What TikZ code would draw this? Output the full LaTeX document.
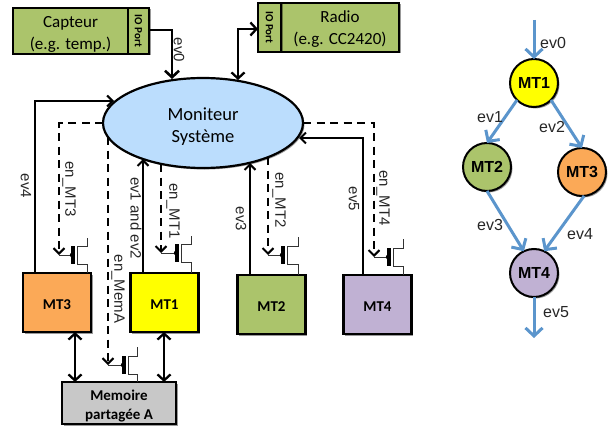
\documentclass[tikz,border=0pt]{standalone}
\usepackage{fontspec}
\setmainfont{Carlito}
\newfontfamily\arialf{Liberation Sans}
\usetikzlibrary{arrows.meta,shadows,calc,shapes.geometric}
\definecolor{cgreen}{HTML}{ABC46B}
\definecolor{corange}{HTML}{FBA957}
\definecolor{cyel}{HTML}{FFFF00}
\definecolor{cpurp}{HTML}{C0B1D3}
\definecolor{cgrey}{HTML}{C8C8C8}
\definecolor{cblue}{HTML}{BBDDFD}
\definecolor{cline}{HTML}{5B95CC}
\tikzset{
  softshadow/.style={drop shadow={shadow xshift=1.5pt,shadow yshift=-1.5pt,opacity=.4,fill=black}},
  box/.style={draw=black,line width=2.2pt,inner sep=0pt,outer sep=0pt,align=center,softshadow,font=\fontsize{17}{22}\selectfont},
  mtbox/.style={box,minimum width=68pt,minimum height=59pt,font=\fontsize{15}{18}\selectfont\bfseries},
  portlabel/.style={rotate=-90,inner sep=0pt,font=\fontsize{11}{12}\selectfont\bfseries},
  sig/.style={font=\arialf\fontsize{15}{15}\selectfont,rotate=-90,inner sep=0pt,text=black!85},
  rlab/.style={font=\arialf\fontsize{16}{16}\selectfont,inner sep=0pt,text=black!85},
  ev/.style={line width=2pt,-{Straight Barb[length=5.5pt,width=11pt,line width=2pt]}},
  enb/.style={line width=2pt,dash pattern=on 8pt off 5.5pt,-{Straight Barb[length=5.5pt,width=11pt,line width=2pt]}},
  heavy/.style={line width=2.6pt,-{Straight Barb[length=6.5pt,width=14pt,line width=2.6pt]}},
  heavyboth/.style={line width=2.3pt,{Straight Barb[length=6pt,width=13pt,line width=2.3pt]}-{Straight Barb[length=6pt,width=13pt,line width=2.3pt]}},
  circ/.style={circle,draw=black,line width=2pt,minimum size=48pt,inner sep=0pt,outer sep=0pt,softshadow,font=\arialf\fontsize{16}{16}\selectfont\bfseries},
  flow/.style={draw=cline,line width=3pt,-{Straight Barb[length=8pt,width=17pt,line width=3pt]}},
  thinw/.style={line width=.8pt,draw=black!80},
  gatebar/.style={line width=3.4pt,draw=black},
}
% gate x, gate y, right x, top y, bottom y, name of the stub end
\newcommand{\fet}[6]{%
  \draw[thinw] (#6) -- (#1,#2);
  \fill (#1-1,#2) circle (2.2pt);
  \draw[gatebar] (#1,#2-9) -- (#1,#2+9);
  \draw[thinw] (#3,#4) -- (#3,#2-9) -- (#1+4,#2-9) -- (#1+4,#2+9) -- (#3,#2+9) -- (#3,#5);
}
\begin{document}
\begin{tikzpicture}[x=1pt,y=-1pt]
\useasboundingbox (0,0) rectangle (608,428);

% boxes
\node[box,fill=cgreen,minimum width=115pt,minimum height=46pt] (capt) at (70.5,31) {\rule{0pt}{18pt}Capteur\\(e.g. temp.)};
\node[box,fill=cgreen,minimum width=21pt,minimum height=46pt] (captp) at (138.5,31) {};
\node[portlabel] (captpl) at (138.5,31) {IO Port};
\node[box,fill=cgreen,minimum width=118pt,minimum height=49pt] (radio) at (340,27.5) {\rule{0pt}{15pt}Radio\\(e.g. CC2420)};
\node[box,fill=cgreen,minimum width=23pt,minimum height=49pt] (radiop) at (269.5,27.5) {};
\node[portlabel] (radiopl) at (269.5,27.5) {IO Port};

\node[ellipse,draw=black,line width=2.2pt,fill=cblue,minimum width=200pt,minimum height=90pt,inner sep=0pt,outer sep=0pt,align=center,softshadow,font=\fontsize{18.5}{22}\selectfont] (mon) at (203,123) {\rule{0pt}{20pt}Moniteur\\Système};

\node[mtbox,fill=corange] (mta) at (57,302.5) {\rule{0pt}{14pt}MT3};
\node[mtbox,fill=cyel] (mtb) at (164.5,302.5) {\rule{0pt}{14pt}MT1};
\node[mtbox,fill=cgreen] (mtc) at (271.5,304.5) {\rule{0pt}{14pt}MT2};
\node[mtbox,fill=cpurp] (mtd) at (377.5,304.5) {\rule{0pt}{14pt}MT4};
\node[box,fill=cgrey,minimum width=114pt,minimum height=42pt,font=\fontsize{15}{19}\selectfont\bfseries] (mem) at (119,403) {\rule{0pt}{16pt}Memoire\\partagée A};

% anchor points on the monitor
\coordinate (m0) at (172,79);
\coordinate (m1) at (238,80);
\coordinate (m2) at (114,101);
\coordinate (m3) at (103,123);
\coordinate (m4) at (108,137);
\coordinate (m5) at (143,159);
\coordinate (m6) at (161,164);
\coordinate (m7) at (250,163);
\coordinate (m8) at (268,157);
\coordinate (m9) at (299,138);
\coordinate (m10) at (303,123);

% transistor stub ends
\coordinate (ga) at (59,255);
\coordinate (gb) at (161,253);
\coordinate (gc) at (108,365);
\coordinate (gd) at (268,255);
\coordinate (ge) at (374,257);

% heavy links
\draw[heavy] (captp.east |- 0,30) -| (m0);
\draw[heavyboth] (radiop.west |- 0,29) -| (m1);
\draw[heavyboth] (75,332) -- (75,382);
\draw[heavyboth] (164,332) -- (164,382);

% event lines
\draw[ev] (35,273) |- (m2);
\draw[ev] (143,273) -- (m5);
\draw[ev] (250,275) -- (m7);
\draw[ev] (363,275) |- (m9);

% enable lines
\draw[enb] (m3) -| (ga);
\draw[enb] (m4) -- (gc);
\draw[enb] (m6) -- (gb);
\draw[enb] (m8) -- (gd);
\draw[enb] (m10) -| (ge);

% transistors
\fet{73}{255}{87}{238}{273}{ga}
\fet{177}{253}{191}{236}{273}{gb}
\fet{124}{365}{137}{347}{382}{gc}
\fet{283}{255}{298}{237}{275}{gd}
\fet{389}{257}{403}{239}{275}{ge}

% rotated labels
\node[sig] (l0) at (179,50) {ev0};
\node[sig] (l1) at (26,186) {ev4};
\node[sig] (l2) at (69,189) {en\_MT3};
\node[sig] (l3) at (136,218) {ev1 and ev2};
\node[sig] (l4) at (173,211) {en\_MT1};
\node[sig] (l5) at (118,289) {en\_MemA};
\node[sig] (l6) at (241,219) {ev3};
\node[sig] (l7) at (279,200) {en\_MT2};
\node[sig] (l8) at (354,199) {ev5};
\node[sig] (l9) at (383,198) {en\_MT4};

% task graph
\node[circ,fill=cyel] (n1) at (534,83) {MT1};
\node[circ,fill=cgreen] (n2) at (487,167) {MT2};
\node[circ,fill=corange] (n3) at (582,172) {MT3};
\node[circ,fill=cpurp] (n4) at (534,273) {MT4};
\coordinate (top) at (534,20);
\coordinate (bot) at (534,338);
\draw[flow] (top) -- (n1.north);
\draw[flow] (n1.225) -- (n2.north);
\draw[flow] (n1.-45) -- (n3.north);
\draw[flow] (n2.south) -- (n4.115);
\draw[flow] (n3.-85) -- (n4.65);
\draw[flow] (n4.south) -- (bot);
\node[rlab] (e0) at (553,43) {ev0};
\node[rlab] (e1) at (490,117) {ev1};
\node[rlab] (e2) at (552,127) {ev2};
\node[rlab] (e3) at (490,225) {ev3};
\node[rlab] (e4) at (580,234) {ev4};
\node[rlab] (e5) at (556,312) {ev5};
\end{tikzpicture}
\end{document}
